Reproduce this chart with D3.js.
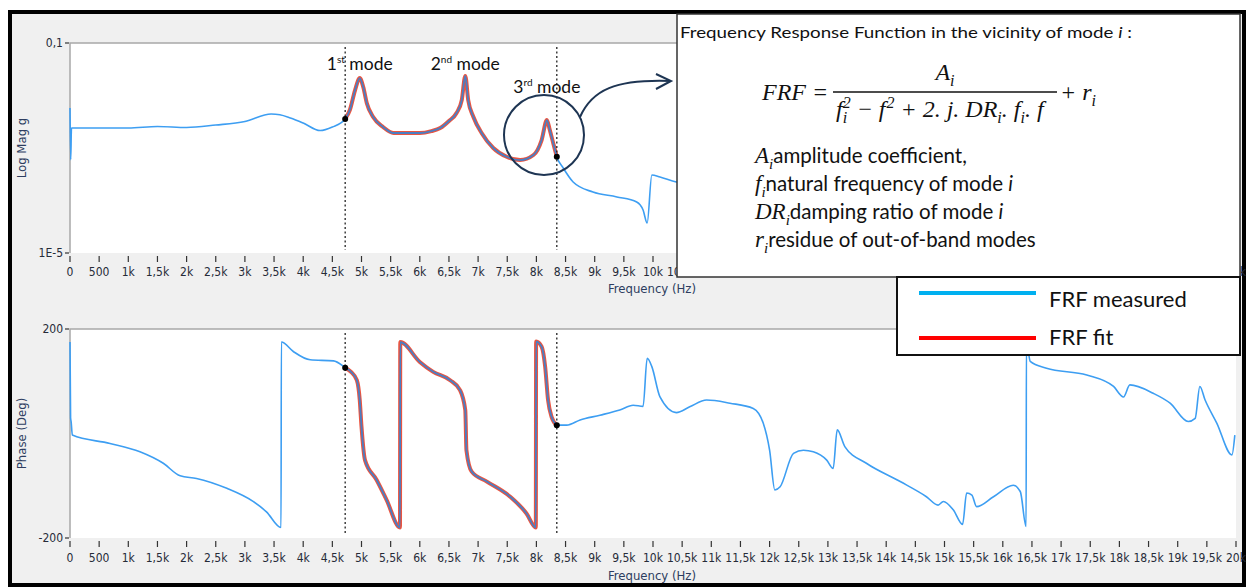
<!DOCTYPE html>
<html>
<head>
<meta charset="utf-8">
<script src="https://cdn.jsdelivr.net/npm/d3@7"></script>
<style>
  body { margin: 0; background: #fff; }
  .tick-label { font-family: "DejaVu Sans Condensed", "DejaVu Sans", sans-serif; font-stretch: condensed; font-size: 12px; fill: #262b38; }
  .axis-title { font-family: "DejaVu Sans Condensed", "DejaVu Sans", sans-serif; font-stretch: condensed; font-size: 13px; fill: #2d3d60; }
  .note { font-family: Lato, "Open Sans", sans-serif; fill: #111; }
  .math { font-family: "Liberation Serif", "DejaVu Serif", serif; font-style: italic; fill: #111; }
</style>
</head>
<body>
<script>
// frequency ticks (Hz) and the labels the analyser prints
const xTicks = d3.range(0, 20001, 500);
const xTickLabels = xTicks.map(v => v < 1000 ? String(v) : (v / 1000).toString().replace(".", ",") + "k");

const magTicks = [1e-5, 0.1];
const magTickLabels = ["1E-5", "0,1"];
const phaseTicks = [-200, 200];
const phaseTickLabels = ["-200", "200"];

// measured magnitude [Hz, g] (right part is hidden behind the formula box)
const magMeasured = [
  [0, 0.0058], [12, 0.0006], [25, 0.0024], [500, 0.0024], [1000, 0.0024], [1500, 0.00257],
  [2000, 0.00246], [2500, 0.00274], [3000, 0.0032], [3450, 0.00445], [3600, 0.0043],
  [3780, 0.00373], [4000, 0.00299], [4290, 0.00215], [4500, 0.00251], [4720, 0.00357],
  [4800, 0.0053], [4890, 0.0127], [4970, 0.0215], [5030, 0.0145], [5090, 0.0072],
  [5200, 0.00389], [5370, 0.00251], [5550, 0.00193], [6000, 0.00193], [6200, 0.0021],
  [6350, 0.0024], [6500, 0.00327], [6630, 0.00464], [6720, 0.0082], [6780, 0.0235],
  [6830, 0.0082], [6920, 0.0039], [7060, 0.00193], [7260, 0.001], [7490, 0.00068],
  [7720, 0.00059], [7950, 0.000736], [8090, 0.00142], [8180, 0.00341], [8230, 0.0022],
  [8290, 0.00122], [8350, 0.00068], [8460, 0.000416], [8630, 0.000225], [8970, 0.000145],
  [9380, 0.000117], [9720, 0.0000936], [9830, 0.0000659], [9900, 0.0000373], [9980, 0.000306],
  [10120, 0.00028], [10400, 0.000225], [10800, 0.0002]
];

// fitted magnitude between the two band limits
const magFit = [
  [4720, 0.00357], [4800, 0.0053], [4890, 0.0127], [4970, 0.0215], [5030, 0.0145],
  [5090, 0.0072], [5200, 0.00389], [5370, 0.00251], [5550, 0.00193], [6000, 0.00193],
  [6200, 0.0021], [6350, 0.0024], [6500, 0.00327], [6630, 0.00464], [6720, 0.0082],
  [6780, 0.0235], [6830, 0.0082], [6920, 0.0039], [7060, 0.00193], [7260, 0.001],
  [7490, 0.00068], [7720, 0.00059], [7950, 0.000736], [8090, 0.00142], [8180, 0.00341],
  [8230, 0.0022], [8290, 0.00122], [8350, 0.00068]
];

// measured phase [Hz, deg]
const phaseMeasured = [
  [0, 175], [10, 30], [20, 22], [40, -3], [686, -19], [1200, -35], [1600, -57], [1890, -81],
  [2170, -86], [2690, -105], [3140, -130], [3370, -150], [3620, -180], [3625, 175], [3830, 157],
  [4120, 141], [4520, 139], [4720, 126], [4820, 118], [4920, 102], [4970, 64], [5000, 13],
  [5060, -51], [5260, -89], [5430, -127], [5660, -180], [5665, 175], [6000, 137], [6230, 118],
  [6520, 102], [6690, 83], [6780, 45], [6800, -32], [6890, -73], [7150, -92], [7550, -121],
  [7830, -153], [7990, -180], [7995, 176], [8090, 166], [8150, 128], [8200, 64], [8260, 32],
  [8350, 16], [8520, 16], [8750, 26], [9090, 35], [9430, 45], [9660, 54], [9830, 52],
  [9900, 144], [9980, 128], [10120, 70], [10400, 40], [10630, 51], [10920, 64], [11320, 58],
  [11720, 48], [11890, 20], [12000, -32], [12090, -108], [12180, -102], [12410, -38],
  [12580, -32], [12750, -35], [12980, -51], [13090, -67], [13160, 7], [13290, -25],
  [13660, -57], [14240, -92], [14690, -121], [14890, -137], [14980, -130], [15150, -146],
  [15310, -174], [15380, -114], [15470, -118], [15550, -140], [15840, -121], [16180, -99],
  [16300, -111], [16400, -178], [16405, 178], [16470, 138], [16750, 125], [17440, 112],
  [17900, 90], [18070, 70], [18180, 93], [18580, 77], [18870, 58], [19180, 23], [19300, 29],
  [19380, 90], [19470, 64], [19670, 20], [19930, -41], [19980, -3]
];

const phaseFit = [
  [4720, 126], [4820, 118], [4920, 102], [4970, 64], [5000, 13], [5060, -51], [5260, -89],
  [5430, -127], [5660, -180], [5665, 175], [6000, 137], [6230, 118], [6520, 102], [6690, 83],
  [6780, 45], [6800, -32], [6890, -73], [7150, -92], [7550, -121], [7830, -153], [7990, -180],
  [7995, 176], [8090, 166], [8150, 128], [8200, 64], [8260, 32], [8350, 16]
];

// fit band limits and the three modes
const bandLimits = [4720, 8350];
const modes = [
  { num: "1", sup: "st", freq: 4970, row: 0 },
  { num: "2", sup: "nd", freq: 6780, row: 0 },
  { num: "3", sup: "rd", freq: 8180, row: 1 }
];

const legendItems = [
  { label: "FRF measured", color: "#00b0f0" },
  { label: "FRF fit", color: "#ff0000" }
];

const descriptions = [
  { sym: "A", sub: "i", text: "amplitude coefficient," },
  { sym: "f", sub: "i", text: "natural frequency of mode ", it: "i" },
  { sym: "DR", sub: "i", text: "damping ratio of mode ", it: "i" },
  { sym: "r", sub: "i", text: "residue of out-of-band modes" }
];

const W = 1250, H = 588;
const blue = "#3d9ef2", red = "#e8432c";

const svg = d3.select("body").append("svg")
  .attr("width", W).attr("height", H);

// outer frame
svg.append("rect")
  .attr("x", 10).attr("y", 12).attr("width", 1234).attr("height", 573)
  .attr("fill", "#f0f0f0").attr("stroke", "#000").attr("stroke-width", 4);

const x = d3.scaleLinear().domain([0, 20000]).range([70, 1236]);
const yMag = d3.scaleLog().domain([1e-5, 0.1]).range([253, 43]);
const yPh = d3.scaleLinear().domain([-200, 200]).range([538, 329]);

function drawPanel(y, ticks, labels, title, series, fit, axisLabelY, titleY) {
  const [y0, y1] = y.range();
  const g = svg.append("g");
  g.append("rect")
    .attr("x", x.range()[0]).attr("y", y1)
    .attr("width", x.range()[1] - x.range()[0]).attr("height", y0 - y1)
    .attr("fill", "#fff");
  g.append("path")
    .attr("d", `M${x.range()[0]},${y0}V${y1}H${x.range()[1]}`)
    .attr("fill", "none").attr("stroke", "#a8a8a8").attr("stroke-width", 1.5);

  // x ticks
  const xt = g.append("g").selectAll("g").data(xTicks).enter().append("g");
  xt.append("line")
    .attr("x1", d => x(d)).attr("x2", d => x(d))
    .attr("y1", y0 + 3).attr("y2", y0 + 9)
    .attr("stroke", "#333").attr("stroke-width", 1.2);
  xt.append("text").attr("class", "tick-label")
    .attr("x", d => x(d)).attr("y", axisLabelY)
    .attr("text-anchor", "middle")
    .text((d, i) => xTickLabels[i]);

  // y ticks
  const yt = g.append("g").selectAll("g").data(ticks).enter().append("g");
  yt.append("line")
    .attr("x1", 65).attr("x2", 69)
    .attr("y1", d => y(d)).attr("y2", d => y(d))
    .attr("stroke", "#333").attr("stroke-width", 1.2);
  yt.append("text").attr("class", "tick-label")
    .attr("x", 63).attr("y", d => y(d) + 4)
    .attr("text-anchor", "end")
    .text((d, i) => labels[i]);

  g.append("text").attr("class", "axis-title")
    .attr("transform", `translate(26,${(y0 + y1) / 2}) rotate(-90)`)
    .attr("text-anchor", "middle").text(title);
  g.append("text").attr("class", "axis-title")
    .attr("x", 652).attr("y", titleY)
    .attr("text-anchor", "middle").text("Frequency (Hz)");

  const line = d3.line().curve(d3.curveMonotoneX).x(d => x(d[0])).y(d => y(d[1]));
  g.append("path").datum(series)
    .attr("d", line).attr("fill", "none")
    .attr("stroke", blue).attr("stroke-width", 1.6);
  g.append("path").datum(fit)
    .attr("d", line).attr("fill", "none")
    .attr("stroke", red).attr("stroke-width", 4).attr("stroke-opacity", 0.9);
  g.append("path").datum(fit)
    .attr("d", line).attr("fill", "none")
    .attr("stroke", "#4a7fc4").attr("stroke-width", 1.8);

  // band limits
  g.selectAll(".limit").data(bandLimits).enter().append("line")
    .attr("x1", d => x(d)).attr("x2", d => x(d))
    .attr("y1", y1 + 4).attr("y2", y0 - 3)
    .attr("stroke", "#222").attr("stroke-width", 1.3)
    .attr("stroke-dasharray", "2,2.5");
  g.selectAll(".dot").data(bandLimits).enter().append("circle")
    .attr("cx", d => x(d))
    .attr("cy", d => y(fit.find(p => p[0] === d)[1]))
    .attr("r", 3).attr("fill", "#000");
  return g;
}

drawPanel(yMag, magTicks, magTickLabels, "Log Mag g", magMeasured, magFit, 276, 293);
drawPanel(yPh, phaseTicks, phaseTickLabels, "Phase (Deg)", phaseMeasured, phaseFit, 562, 580);

// mode labels
modes.forEach(m => {
  const t = svg.append("text").attr("class", "note")
    .attr("x", x(m.freq)).attr("y", m.row ? 93 : 70)
    .attr("text-anchor", "middle").style("font-size", "17.5px");
  t.append("tspan").text(m.num);
  t.append("tspan").attr("dy", -7).style("font-size", "10px").text(m.sup);
  t.append("tspan").attr("dy", 7).text(" mode");
});

// highlight of the 3rd mode and arrow to the formula
svg.append("circle")
  .attr("cx", 544).attr("cy", 135).attr("r", 40)
  .attr("fill", "none").attr("stroke", "#1e3553").attr("stroke-width", 2);
svg.append("path")
  .attr("d", "M580,117 C592,90 615,79 671,81")
  .attr("fill", "none").attr("stroke", "#1e3553").attr("stroke-width", 2);
svg.append("path")
  .attr("d", "M656,74 L671,81 L656,89")
  .attr("fill", "none").attr("stroke", "#1e3553").attr("stroke-width", 2);

// formula box
const fb = svg.append("g");
fb.append("rect")
  .attr("x", 677).attr("y", 14).attr("width", 563).attr("height", 263)
  .attr("fill", "#fff").attr("stroke", "#333").attr("stroke-width", 1.5);
const title = fb.append("text").attr("class", "note")
  .attr("x", 680).attr("y", 38).style("font-size", "16px")
  .attr("textLength", 452).attr("lengthAdjust", "spacingAndGlyphs");
title.append("tspan").text("Frequency Response Function in the vicinity of mode ");
title.append("tspan").style("font-style", "italic").text("i");
title.append("tspan").text(" :");

const big = "24px", small = "16px";
fb.append("text").attr("class", "math").attr("x", 762).attr("y", 100)
  .style("font-size", big).text("FRF =");
const num = fb.append("text").attr("class", "math").attr("x", 945).attr("y", 80)
  .attr("text-anchor", "middle").style("font-size", big);
num.append("tspan").text("A");
num.append("tspan").attr("dy", 6).style("font-size", small).text("i");
fb.append("line").attr("x1", 833).attr("x2", 1057).attr("y1", 92).attr("y2", 92)
  .attr("stroke", "#111").attr("stroke-width", 1.5);
const den = fb.append("text").attr("class", "math").attr("x", 836).attr("y", 117)
  .style("font-size", big);
den.append("tspan").text("f");
den.append("tspan").attr("dy", 6).style("font-size", small).text("i");
den.append("tspan").attr("dx", -4.5).attr("dy", -15).style("font-size", small).text("2");
den.append("tspan").attr("dy", 9).text(" \u2212 f");
den.append("tspan").attr("dx", 1).attr("dy", -9).style("font-size", small).text("2");
den.append("tspan").attr("dy", 9).text(" + 2. j. DR");
den.append("tspan").attr("dy", 6).style("font-size", small).text("i");
den.append("tspan").attr("dy", -6).text(". f");
den.append("tspan").attr("dy", 6).style("font-size", small).text("i");
den.append("tspan").attr("dy", -6).text(". f");
const plus = fb.append("text").attr("class", "math").attr("x", 1060).attr("y", 100)
  .style("font-size", big);
plus.append("tspan").text("+ r");
plus.append("tspan").attr("dy", 6).style("font-size", small).text("i");

descriptions.forEach((d, i) => {
  const t = fb.append("text").attr("x", 755).attr("y", 163 + i * 28);
  t.append("tspan").attr("class", "math").style("font-size", "23px").text(d.sym);
  t.append("tspan").attr("class", "math").attr("dy", 6).style("font-size", "15px").text(d.sub);
  t.append("tspan").attr("class", "note").attr("dy", -6).style("font-size", "20.5px").text(d.text);
  if (d.it) t.append("tspan").attr("class", "note").style("font-size", "20.5px")
    .style("font-style", "italic").text(d.it);
});

// legend
const lg = svg.append("g");
lg.append("rect")
  .attr("x", 897).attr("y", 277).attr("width", 343).attr("height", 78)
  .attr("fill", "#fff").attr("stroke", "#111").attr("stroke-width", 2);
legendItems.forEach((d, i) => {
  lg.append("line")
    .attr("x1", 919).attr("x2", 1036)
    .attr("y1", 293 + i * 45).attr("y2", 293 + i * 45)
    .attr("stroke", d.color).attr("stroke-width", 4);
  lg.append("text").attr("class", "note")
    .attr("x", 1049).attr("y", 307 + i * 38)
    .style("font-size", "22px").text(d.label);
});
</script>
</body>
</html>
